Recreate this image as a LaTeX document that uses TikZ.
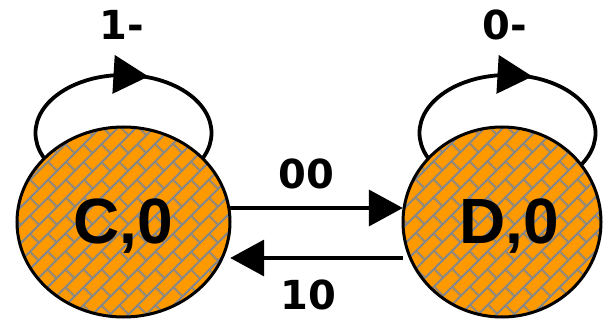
\documentclass[tikz,border=0pt]{standalone}
\usepackage{fontspec}
\newfontfamily\statefont{Liberation Sans}
\newfontfamily\labfont{DejaVu Sans}
\usetikzlibrary{shapes.geometric,arrows.meta,patterns.meta}
\definecolor{stateorange}{RGB}{255,153,0}
\definecolor{brickgray}{RGB}{135,135,135}
\pgfdeclarelayer{background}
\pgfsetlayers{background,main}
\pgfdeclarepattern{
  name=diagbrick,
  type=uncolored,
  bottom left={\pgfpoint{0pt}{0pt}},
  top right={\pgfpoint{26pt}{26pt}},
  tile size={\pgfpoint{26pt}{26pt}},
  tile transformation={\pgftransformrotate{45}},
  code={
    \pgfsetlinewidth{2.2pt}
    \pgfpathmoveto{\pgfpoint{0pt}{6.5pt}}\pgfpathlineto{\pgfpoint{26pt}{6.5pt}}
    \pgfpathmoveto{\pgfpoint{0pt}{19.5pt}}\pgfpathlineto{\pgfpoint{26pt}{19.5pt}}
    \pgfpathmoveto{\pgfpoint{6.5pt}{6.5pt}}\pgfpathlineto{\pgfpoint{6.5pt}{19.5pt}}
    \pgfpathmoveto{\pgfpoint{19.5pt}{19.5pt}}\pgfpathlineto{\pgfpoint{19.5pt}{26pt}}
    \pgfpathmoveto{\pgfpoint{19.5pt}{0pt}}\pgfpathlineto{\pgfpoint{19.5pt}{6.5pt}}
    \pgfusepath{stroke}
  }
}
\begin{document}
\begin{tikzpicture}[x=1pt,y=-1pt,
  state/.style={ellipse, fill=stateorange, inner sep=0pt,
    postaction={pattern=diagbrick, pattern color=brickgray},
    postaction={draw, line width=3pt},
    font=\statefont\bfseries\fontsize{64}{64}\selectfont},
  lab/.style={inner sep=0pt, font=\labfont\bfseries\fontsize{40}{40}\selectfont},
  arr/.style={line width=3.8pt, -{Triangle[length=34pt,width=36pt]}},
  loopline/.style={line width=3.8pt},
  loophead/.style={line width=3.8pt, -{Triangle[length=35pt,width=38pt]}}
]
\useasboundingbox (0,0) rectangle (604,320);
\node[state, minimum width=213pt, minimum height=190pt] (C) at (123.5,222) {\raisebox{-4pt}[\height][\depth]{C,0}};
\node[state, minimum width=198pt, minimum height=190pt] (D) at (502,222) {\raisebox{-4pt}[\height][\depth]{\hspace*{14pt}D,0}};
\coordinate (Ctop) at ([yshift=147pt]C.center);
\coordinate (Dtop) at ([shift={(5.5pt,147pt)}]D.center);
\begin{pgfonlayer}{background}
  \draw[loopline] ([xshift=-88pt,yshift=-58pt]Ctop) arc[start angle=180, end angle=-180, x radius=88pt, y radius=58pt];
  \draw[loopline] ([xshift=-88pt,yshift=-58pt]Dtop) arc[start angle=180, end angle=-180, x radius=88pt, y radius=58pt];
\end{pgfonlayer}
\draw[loophead] (Ctop) -- ([shift={(25pt,-1.5pt)}]Ctop);
\draw[loophead] (Dtop) -- ([shift={(25pt,-1.5pt)}]Dtop);
\draw[arr] ([yshift=14pt]C.east) -- ([yshift=14pt]D.west);
\draw[arr] ([yshift=-36pt]D.west) -- ([yshift=-36pt]C.east);
\node[lab] (l1) at (122,25) {1-};
\node[lab] (l2) at (505,25) {0-};
\node[lab] (l3) at (306,174) {00};
\node[lab] (l4) at (308,295) {10};
\end{tikzpicture}
\end{document}
